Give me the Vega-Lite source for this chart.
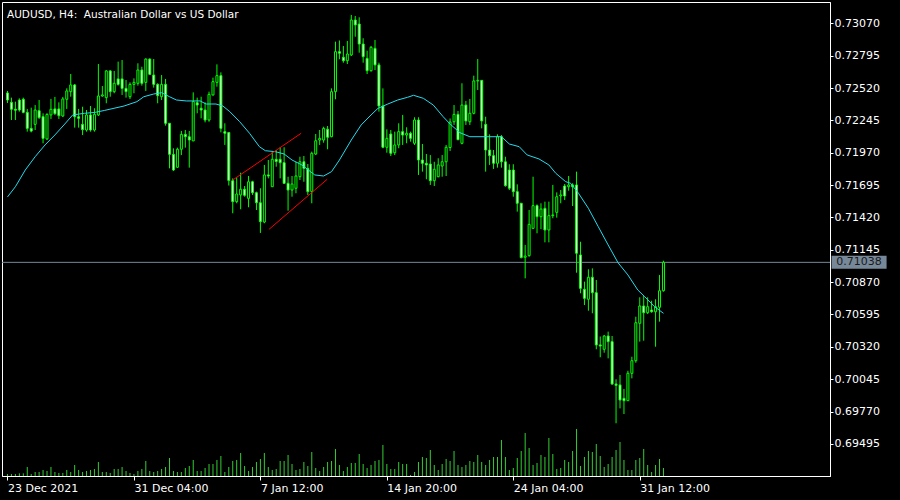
{
"$schema":"https://vega.github.io/schema/vega-lite/v6.json",
"width":828,"height":474,
"autosize":{"type":"none"},
"padding":{"left":2,"top":2,"right":70,"bottom":24},
"background":"black",
"config":{"view":{"stroke":"white","strokeWidth":1},"font":"DejaVu Sans","axis":{"labelOverlap":false,"labelSeparation":0}},
"title":{"text":"AUDUSD, H4:\u00a0 Australian Dollar vs US Dollar","anchor":"start","frame":"group","orient":"top","offset":-28,"dx":5,"baseline":"bottom","fontSize":10.5,"font":"DejaVu Sans","fontWeight":"normal","color":"white"},
"datasets":{
"candles":[
{"i":0,"o":0.72478,"h":0.72495,"l":0.72393,"c":0.72418,"v":600},
{"i":1,"o":0.72398,"h":0.72438,"l":0.72248,"c":0.72339,"v":600},
{"i":2,"o":0.72340,"h":0.72404,"l":0.72248,"c":0.72331,"v":600},
{"i":3,"o":0.72418,"h":0.72432,"l":0.72319,"c":0.72333,"v":800},
{"i":4,"o":0.72424,"h":0.72438,"l":0.72305,"c":0.72313,"v":800},
{"i":5,"o":0.72313,"h":0.72342,"l":0.72149,"c":0.72177,"v":2700},
{"i":6,"o":0.72177,"h":0.72353,"l":0.72143,"c":0.72154,"v":600},
{"i":7,"o":0.72211,"h":0.72375,"l":0.72163,"c":0.72333,"v":1200},
{"i":8,"o":0.72327,"h":0.72418,"l":0.72257,"c":0.72268,"v":1200},
{"i":9,"o":0.72276,"h":0.72305,"l":0.72050,"c":0.72092,"v":1800},
{"i":10,"o":0.72087,"h":0.72305,"l":0.72078,"c":0.72296,"v":1500},
{"i":11,"o":0.72291,"h":0.72427,"l":0.72257,"c":0.72339,"v":2700},
{"i":12,"o":0.72342,"h":0.72444,"l":0.72291,"c":0.72302,"v":1200},
{"i":13,"o":0.72342,"h":0.72398,"l":0.72257,"c":0.72285,"v":900},
{"i":14,"o":0.72282,"h":0.72444,"l":0.72274,"c":0.72427,"v":900},
{"i":15,"o":0.72424,"h":0.72517,"l":0.72342,"c":0.72495,"v":1800},
{"i":16,"o":0.72489,"h":0.72639,"l":0.72446,"c":0.72546,"v":1200},
{"i":17,"o":0.72546,"h":0.72554,"l":0.72183,"c":0.72276,"v":3300},
{"i":18,"o":0.72276,"h":0.72342,"l":0.72183,"c":0.72262,"v":1800},
{"i":19,"o":0.72211,"h":0.72361,"l":0.72120,"c":0.72166,"v":1200},
{"i":20,"o":0.72163,"h":0.72333,"l":0.72149,"c":0.72291,"v":1500},
{"i":21,"o":0.72291,"h":0.72367,"l":0.72149,"c":0.72163,"v":1800},
{"i":22,"o":0.72163,"h":0.72348,"l":0.72149,"c":0.72296,"v":2100},
{"i":23,"o":0.72291,"h":0.72724,"l":0.72282,"c":0.72452,"v":4200},
{"i":24,"o":0.72452,"h":0.72537,"l":0.72446,"c":0.72461,"v":1200},
{"i":25,"o":0.72438,"h":0.72673,"l":0.72390,"c":0.72665,"v":1200},
{"i":26,"o":0.72665,"h":0.72673,"l":0.72446,"c":0.72489,"v":900},
{"i":27,"o":0.72489,"h":0.72665,"l":0.72475,"c":0.72560,"v":2100},
{"i":28,"o":0.72597,"h":0.72744,"l":0.72540,"c":0.72551,"v":2100},
{"i":29,"o":0.72597,"h":0.72758,"l":0.72461,"c":0.72517,"v":2700},
{"i":30,"o":0.72517,"h":0.72588,"l":0.72438,"c":0.72489,"v":1500},
{"i":31,"o":0.72446,"h":0.72568,"l":0.72427,"c":0.72551,"v":900},
{"i":32,"o":0.72551,"h":0.72602,"l":0.72475,"c":0.72568,"v":600},
{"i":33,"o":0.72560,"h":0.72730,"l":0.72540,"c":0.72673,"v":1500},
{"i":34,"o":0.72673,"h":0.72701,"l":0.72540,"c":0.72560,"v":2100},
{"i":35,"o":0.72568,"h":0.72772,"l":0.72495,"c":0.72766,"v":4500},
{"i":36,"o":0.72766,"h":0.72772,"l":0.72630,"c":0.72636,"v":1500},
{"i":37,"o":0.72630,"h":0.72766,"l":0.72523,"c":0.72551,"v":1200},
{"i":38,"o":0.72551,"h":0.72560,"l":0.72390,"c":0.72455,"v":1500},
{"i":39,"o":0.72446,"h":0.72630,"l":0.72418,"c":0.72551,"v":2100},
{"i":40,"o":0.72551,"h":0.72597,"l":0.72200,"c":0.72220,"v":2700},
{"i":41,"o":0.72220,"h":0.72220,"l":0.71837,"c":0.71956,"v":5400},
{"i":42,"o":0.71956,"h":0.72007,"l":0.71815,"c":0.71823,"v":1500},
{"i":43,"o":0.71846,"h":0.72013,"l":0.71843,"c":0.71999,"v":1200},
{"i":44,"o":0.71999,"h":0.72155,"l":0.71950,"c":0.72126,"v":1200},
{"i":45,"o":0.72126,"h":0.72163,"l":0.72013,"c":0.72106,"v":2400},
{"i":46,"o":0.72106,"h":0.72155,"l":0.71843,"c":0.72078,"v":3000},
{"i":47,"o":0.72070,"h":0.72483,"l":0.72070,"c":0.72404,"v":4800},
{"i":48,"o":0.72395,"h":0.72438,"l":0.72305,"c":0.72375,"v":1500},
{"i":49,"o":0.72348,"h":0.72446,"l":0.72262,"c":0.72333,"v":1500},
{"i":50,"o":0.72333,"h":0.72398,"l":0.72228,"c":0.72248,"v":2400},
{"i":51,"o":0.72248,"h":0.72489,"l":0.72233,"c":0.72466,"v":3600},
{"i":52,"o":0.72461,"h":0.72608,"l":0.72455,"c":0.72574,"v":3600},
{"i":53,"o":0.72568,"h":0.72721,"l":0.72531,"c":0.72625,"v":4800},
{"i":54,"o":0.72625,"h":0.72653,"l":0.72143,"c":0.72177,"v":6000},
{"i":55,"o":0.72149,"h":0.72220,"l":0.72036,"c":0.72135,"v":1200},
{"i":56,"o":0.72142,"h":0.72142,"l":0.71691,"c":0.71734,"v":2700},
{"i":57,"o":0.71732,"h":0.71752,"l":0.71455,"c":0.71554,"v":4500},
{"i":58,"o":0.71554,"h":0.71761,"l":0.71540,"c":0.71619,"v":4800},
{"i":59,"o":0.71611,"h":0.71800,"l":0.71489,"c":0.71659,"v":6900},
{"i":60,"o":0.71659,"h":0.71687,"l":0.71596,"c":0.71608,"v":3000},
{"i":61,"o":0.71582,"h":0.71772,"l":0.71506,"c":0.71723,"v":1500},
{"i":62,"o":0.71723,"h":0.71732,"l":0.71611,"c":0.71630,"v":2700},
{"i":63,"o":0.71630,"h":0.71639,"l":0.71483,"c":0.71545,"v":4200},
{"i":64,"o":0.71545,"h":0.71668,"l":0.71288,"c":0.71384,"v":5100},
{"i":65,"o":0.71381,"h":0.71866,"l":0.71370,"c":0.71781,"v":6900},
{"i":66,"o":0.71781,"h":0.71908,"l":0.71752,"c":0.71772,"v":2700},
{"i":67,"o":0.71681,"h":0.71979,"l":0.71681,"c":0.71914,"v":1800},
{"i":68,"o":0.71914,"h":0.71993,"l":0.71851,"c":0.71895,"v":2100},
{"i":69,"o":0.71914,"h":0.72016,"l":0.71752,"c":0.71885,"v":4500},
{"i":70,"o":0.71885,"h":0.72016,"l":0.71704,"c":0.71710,"v":4500},
{"i":71,"o":0.71710,"h":0.71766,"l":0.71477,"c":0.71653,"v":6300},
{"i":72,"o":0.71653,"h":0.71772,"l":0.71596,"c":0.71704,"v":3600},
{"i":73,"o":0.71668,"h":0.71893,"l":0.71625,"c":0.71772,"v":1800},
{"i":74,"o":0.71766,"h":0.71936,"l":0.71738,"c":0.71893,"v":2100},
{"i":75,"o":0.71893,"h":0.71942,"l":0.71723,"c":0.71837,"v":4200},
{"i":76,"o":0.71837,"h":0.71874,"l":0.71611,"c":0.71639,"v":3000},
{"i":77,"o":0.71639,"h":0.71979,"l":0.71540,"c":0.71965,"v":7200},
{"i":78,"o":0.71959,"h":0.72129,"l":0.71950,"c":0.72072,"v":2400},
{"i":79,"o":0.72078,"h":0.72163,"l":0.72036,"c":0.72092,"v":1500},
{"i":80,"o":0.72078,"h":0.72191,"l":0.72055,"c":0.72177,"v":2700},
{"i":81,"o":0.72169,"h":0.72197,"l":0.71999,"c":0.72101,"v":4200},
{"i":82,"o":0.72106,"h":0.72517,"l":0.72101,"c":0.72489,"v":4500},
{"i":83,"o":0.72489,"h":0.72914,"l":0.72424,"c":0.72829,"v":8100},
{"i":84,"o":0.72829,"h":0.72924,"l":0.72764,"c":0.72815,"v":3300},
{"i":85,"o":0.72781,"h":0.72877,"l":0.72735,"c":0.72752,"v":1500},
{"i":86,"o":0.72752,"h":0.72920,"l":0.72724,"c":0.72809,"v":2700},
{"i":87,"o":0.72801,"h":0.73141,"l":0.72792,"c":0.73098,"v":3900},
{"i":88,"o":0.73098,"h":0.73132,"l":0.72956,"c":0.73056,"v":3900},
{"i":89,"o":0.73064,"h":0.73121,"l":0.72820,"c":0.72894,"v":6600},
{"i":90,"o":0.72894,"h":0.72943,"l":0.72735,"c":0.72786,"v":3600},
{"i":91,"o":0.72772,"h":0.72837,"l":0.72639,"c":0.72667,"v":2400},
{"i":92,"o":0.72667,"h":0.72877,"l":0.72659,"c":0.72866,"v":3300},
{"i":93,"o":0.72857,"h":0.72928,"l":0.72673,"c":0.72716,"v":4500},
{"i":94,"o":0.72716,"h":0.72735,"l":0.72319,"c":0.72367,"v":4800},
{"i":95,"o":0.72367,"h":0.72517,"l":0.72008,"c":0.72016,"v":9300},
{"i":96,"o":0.72016,"h":0.72169,"l":0.71970,"c":0.72092,"v":3600},
{"i":97,"o":0.72129,"h":0.72163,"l":0.71942,"c":0.71965,"v":2100},
{"i":98,"o":0.71970,"h":0.72149,"l":0.71950,"c":0.72036,"v":2100},
{"i":99,"o":0.72036,"h":0.72220,"l":0.72008,"c":0.72149,"v":4200},
{"i":100,"o":0.72149,"h":0.72291,"l":0.72036,"c":0.72120,"v":3600},
{"i":101,"o":0.72120,"h":0.72186,"l":0.72050,"c":0.72135,"v":3600},
{"i":102,"o":0.72135,"h":0.72149,"l":0.72064,"c":0.72092,"v":300},
{"i":103,"o":0.72050,"h":0.72271,"l":0.72036,"c":0.72248,"v":1200},
{"i":104,"o":0.72248,"h":0.72271,"l":0.71781,"c":0.71908,"v":4200},
{"i":105,"o":0.71908,"h":0.72044,"l":0.71809,"c":0.71880,"v":5700},
{"i":106,"o":0.71880,"h":0.71959,"l":0.71744,"c":0.71866,"v":5400},
{"i":107,"o":0.71874,"h":0.71950,"l":0.71696,"c":0.71732,"v":7800},
{"i":108,"o":0.71732,"h":0.71893,"l":0.71687,"c":0.71829,"v":3300},
{"i":109,"o":0.71766,"h":0.71923,"l":0.71761,"c":0.71866,"v":1800},
{"i":110,"o":0.71857,"h":0.71950,"l":0.71766,"c":0.71893,"v":3600},
{"i":111,"o":0.71893,"h":0.72036,"l":0.71772,"c":0.72016,"v":5100},
{"i":112,"o":0.72014,"h":0.72261,"l":0.71985,"c":0.72231,"v":4500},
{"i":113,"o":0.72233,"h":0.72375,"l":0.72206,"c":0.72296,"v":7500},
{"i":114,"o":0.72296,"h":0.72325,"l":0.72078,"c":0.72080,"v":3300},
{"i":115,"o":0.72050,"h":0.72560,"l":0.72041,"c":0.72375,"v":2700},
{"i":116,"o":0.72375,"h":0.72410,"l":0.72206,"c":0.72240,"v":3300},
{"i":117,"o":0.72233,"h":0.72427,"l":0.72206,"c":0.72305,"v":4500},
{"i":118,"o":0.72305,"h":0.72625,"l":0.72296,"c":0.72580,"v":4200},
{"i":119,"o":0.72580,"h":0.72766,"l":0.72503,"c":0.72585,"v":6300},
{"i":120,"o":0.72585,"h":0.72588,"l":0.72177,"c":0.72240,"v":4200},
{"i":121,"o":0.72211,"h":0.72276,"l":0.71809,"c":0.71993,"v":3300},
{"i":122,"o":0.71993,"h":0.72126,"l":0.71866,"c":0.71945,"v":4800},
{"i":123,"o":0.71945,"h":0.71993,"l":0.71832,"c":0.71880,"v":5700},
{"i":124,"o":0.71880,"h":0.72126,"l":0.71843,"c":0.72106,"v":5700},
{"i":125,"o":0.72106,"h":0.72120,"l":0.71843,"c":0.71893,"v":10800},
{"i":126,"o":0.71893,"h":0.71936,"l":0.71681,"c":0.71690,"v":5700},
{"i":127,"o":0.71823,"h":0.71872,"l":0.71653,"c":0.71668,"v":1800},
{"i":128,"o":0.71823,"h":0.71872,"l":0.71596,"c":0.71639,"v":2400},
{"i":129,"o":0.71639,"h":0.71701,"l":0.71469,"c":0.71540,"v":5400},
{"i":130,"o":0.71540,"h":0.71540,"l":0.71072,"c":0.71078,"v":7500},
{"i":131,"o":0.71081,"h":0.71186,"l":0.70902,"c":0.71092,"v":12900},
{"i":132,"o":0.71095,"h":0.71483,"l":0.71086,"c":0.71361,"v":8400},
{"i":133,"o":0.71327,"h":0.71766,"l":0.71327,"c":0.71520,"v":3300},
{"i":134,"o":0.71520,"h":0.71531,"l":0.71285,"c":0.71426,"v":3900},
{"i":135,"o":0.71426,"h":0.71540,"l":0.71321,"c":0.71491,"v":6300},
{"i":136,"o":0.71497,"h":0.71554,"l":0.71208,"c":0.71313,"v":5700},
{"i":137,"o":0.71313,"h":0.71554,"l":0.71208,"c":0.71435,"v":11400},
{"i":138,"o":0.71435,"h":0.71696,"l":0.71413,"c":0.71441,"v":6600},
{"i":139,"o":0.71463,"h":0.71633,"l":0.71418,"c":0.71596,"v":2100},
{"i":140,"o":0.71602,"h":0.71653,"l":0.71540,"c":0.71611,"v":2400},
{"i":141,"o":0.71687,"h":0.71704,"l":0.71568,"c":0.71602,"v":4800},
{"i":142,"o":0.71681,"h":0.71772,"l":0.71647,"c":0.71696,"v":4200},
{"i":143,"o":0.71696,"h":0.71710,"l":0.71517,"c":0.71681,"v":7500},
{"i":144,"o":0.71696,"h":0.71809,"l":0.70950,"c":0.71115,"v":14100},
{"i":145,"o":0.71101,"h":0.71213,"l":0.70775,"c":0.70817,"v":3000},
{"i":146,"o":0.70809,"h":0.70874,"l":0.70675,"c":0.70732,"v":5700},
{"i":147,"o":0.70724,"h":0.70979,"l":0.70627,"c":0.70911,"v":7500},
{"i":148,"o":0.70911,"h":0.70987,"l":0.70605,"c":0.70780,"v":7200},
{"i":149,"o":0.70780,"h":0.70888,"l":0.70299,"c":0.70336,"v":9600},
{"i":150,"o":0.70336,"h":0.70408,"l":0.70231,"c":0.70327,"v":6000},
{"i":151,"o":0.70299,"h":0.70421,"l":0.70270,"c":0.70412,"v":2700},
{"i":152,"o":0.70412,"h":0.70449,"l":0.70222,"c":0.70364,"v":3600},
{"i":153,"o":0.70364,"h":0.70412,"l":0.69996,"c":0.70004,"v":5700},
{"i":154,"o":0.70004,"h":0.70044,"l":0.69670,"c":0.69993,"v":7800},
{"i":155,"o":0.69996,"h":0.70081,"l":0.69797,"c":0.69868,"v":10200},
{"i":156,"o":0.69882,"h":0.69962,"l":0.69749,"c":0.69862,"v":4800},
{"i":157,"o":0.69862,"h":0.70117,"l":0.69862,"c":0.70095,"v":1800},
{"i":158,"o":0.70095,"h":0.70236,"l":0.70052,"c":0.70202,"v":1800},
{"i":159,"o":0.70202,"h":0.70576,"l":0.70185,"c":0.70525,"v":4800},
{"i":160,"o":0.70520,"h":0.70741,"l":0.70364,"c":0.70667,"v":5400},
{"i":161,"o":0.70667,"h":0.70752,"l":0.70372,"c":0.70610,"v":8100},
{"i":162,"o":0.70610,"h":0.70741,"l":0.70599,"c":0.70661,"v":3300},
{"i":163,"o":0.70633,"h":0.70712,"l":0.70610,"c":0.70618,"v":1200},
{"i":164,"o":0.70618,"h":0.70724,"l":0.70321,"c":0.70661,"v":3300},
{"i":165,"o":0.70656,"h":0.70931,"l":0.70534,"c":0.70797,"v":5100},
{"i":166,"o":0.70797,"h":0.71052,"l":0.70789,"c":0.71038,"v":2400}
],
"ma":[
{"i":0,"ma":0.71594},{"i":2,"ma":0.71681},{"i":4.5,"ma":0.71823},{"i":7,"ma":0.71936},{"i":9.5,"ma":0.72036},{"i":12,"ma":0.72121},{"i":14.5,"ma":0.72214},{"i":16.5,"ma":0.72291},{"i":19.5,"ma":0.72305},{"i":22,"ma":0.72312},{"i":24.5,"ma":0.72329},{"i":29.5,"ma":0.72367},{"i":32.75,"ma":0.72404},{"i":34.5,"ma":0.72446},{"i":37,"ma":0.72469},{"i":39,"ma":0.72480},{"i":41,"ma":0.72446},{"i":42.75,"ma":0.72418},{"i":45.25,"ma":0.72410},{"i":48.75,"ma":0.72410},{"i":50.25,"ma":0.72384},{"i":52.75,"ma":0.72384},{"i":54.5,"ma":0.72367},{"i":56.25,"ma":0.72319},{"i":58.75,"ma":0.72234},{"i":61.25,"ma":0.72135},{"i":63.75,"ma":0.72021},{"i":65.25,"ma":0.71987},{"i":67.75,"ma":0.71979},{"i":70,"ma":0.71959},{"i":72,"ma":0.71908},{"i":74.5,"ma":0.71866},{"i":77.75,"ma":0.71781},{"i":80,"ma":0.71772},{"i":82,"ma":0.71809},{"i":84,"ma":0.71908},{"i":87,"ma":0.72078},{"i":89.5,"ma":0.72206},{"i":92,"ma":0.72291},{"i":93.75,"ma":0.72347},{"i":96.25,"ma":0.72384},{"i":98.75,"ma":0.72418},{"i":101.25,"ma":0.72441},{"i":102.75,"ma":0.72458},{"i":105.25,"ma":0.72432},{"i":107.75,"ma":0.72375},{"i":110.25,"ma":0.72276},{"i":112,"ma":0.72214},{"i":114.5,"ma":0.72140},{"i":117,"ma":0.72106},{"i":122,"ma":0.72106},{"i":125,"ma":0.72106},{"i":127,"ma":0.72044},{"i":129.5,"ma":0.72021},{"i":131.5,"ma":0.71951},{"i":134.5,"ma":0.71917},{"i":137,"ma":0.71866},{"i":138.75,"ma":0.71795},{"i":141.25,"ma":0.71724},{"i":142.5,"ma":0.71710},{"i":144.5,"ma":0.71625},{"i":147,"ma":0.71497},{"i":149.5,"ma":0.71341},{"i":152,"ma":0.71186},{"i":154.5,"ma":0.71035},{"i":157,"ma":0.70931},{"i":159.5,"ma":0.70803},{"i":161.25,"ma":0.70746},{"i":163.75,"ma":0.70661},{"i":166,"ma":0.70605}
],
"trend":[
{"x1":57,"p1":0.71738,"x2":74.3,"p2":0.72135},
{"x1":66.2,"p1":0.71319,"x2":80.9,"p2":0.71744}
],
"last":[{"price":0.71038}]
},
"layer":[
{"layer":[
{"data":{"name":"last"},"mark":{"type":"rule","color":"#778899","strokeWidth":1},
 "encoding":{"y":{"field":"price","type":"quantitative"}}},
{"data":{"name":"candles"},"mark":{"type":"rule","color":"#00FF00","strokeWidth":1},
 "encoding":{
  "x":{"field":"i","type":"quantitative","scale":{"domain":[-0.125,206.875],"nice":false,"zero":false},
   "axis":{"values":[0,32,64,96,128,160],"tickCount":40,"labelExpr":"datum.value==0?'23 Dec 2021':datum.value==32?'31 Dec 04:00':datum.value==64?'7 Jan 12:00':datum.value==96?'14 Jan 20:00':datum.value==128?'24 Jan 04:00':'31 Jan 12:00'","title":null,"grid":false,"domainColor":"white","tickColor":"white","tickSize":4,"labelColor":"white","labelFont":"DejaVu Sans","labelFontSize":11,"labelAlign":"left","labelBaseline":"top","labelPadding":2,"labelFlush":false,"labelOverlap":false}},
  "y":{"field":"l","type":"quantitative","scale":{"domain":[0.69222,0.73251],"nice":false,"zero":false},
   "axis":{"orient":"right","values":[0.69495,0.6977,0.70045,0.7032,0.70595,0.7087,0.71145,0.7142,0.71695,0.7197,0.72245,0.7252,0.72795,0.7307],"tickCount":40,"format":".5f","title":null,"grid":false,"tickSize":3,"labelPadding":1,"labelColor":"white","labelFont":"DejaVu Sans","labelFontSize":11,"domainColor":"white","tickColor":"white","labelOverlap":false,"labelSeparation":0,"labelFlush":false,"labelBound":false}},
  "y2":{"field":"h"}}},
{"data":{"name":"candles"},"mark":{"type":"bar","width":2,"stroke":"#00FF00","strokeWidth":1,"orient":"vertical"},
 "encoding":{
  "x":{"field":"i","type":"quantitative"},
  "y":{"field":"o","type":"quantitative"},
  "y2":{"field":"c"},
  "fill":{"condition":{"test":"datum.o > datum.c","value":"white"},"value":"black"}}},
{"data":{"name":"ma"},"mark":{"type":"line","color":"#22DDEE","strokeWidth":1},
 "encoding":{"x":{"field":"i","type":"quantitative"},"y":{"field":"ma","type":"quantitative"}}},
{"data":{"name":"trend"},"mark":{"type":"rule","color":"#FF0000","strokeWidth":1},
 "encoding":{"x":{"field":"x1","type":"quantitative"},"x2":{"field":"x2"},"y":{"field":"p1","type":"quantitative"},"y2":{"field":"p2"}}},
{"data":{"name":"last"},"mark":{"type":"tick","orient":"horizontal","color":"#778899","opacity":1,"size":55,"thickness":13},
 "encoding":{"x":{"datum":215.5,"type":"quantitative"},"y":{"field":"price","type":"quantitative"}}},
{"data":{"name":"last"},"mark":{"type":"text","align":"center","baseline":"middle","color":"#1a1a1a","font":"DejaVu Sans","fontSize":11},
 "encoding":{"x":{"datum":215.5,"type":"quantitative"},"y":{"field":"price","type":"quantitative"},"text":{"field":"price","type":"quantitative","format":".5f"}}}
]},
{"data":{"name":"candles"},"mark":{"type":"rule","color":"#32CD32","strokeWidth":1},
 "encoding":{
  "x":{"field":"i","type":"quantitative"},
  "y":{"field":"v","type":"quantitative","scale":{"domain":[0,142200],"nice":false,"zero":true},"axis":null},
  "y2":{"datum":0}}}
],
"resolve":{"scale":{"y":"independent"}}
}
